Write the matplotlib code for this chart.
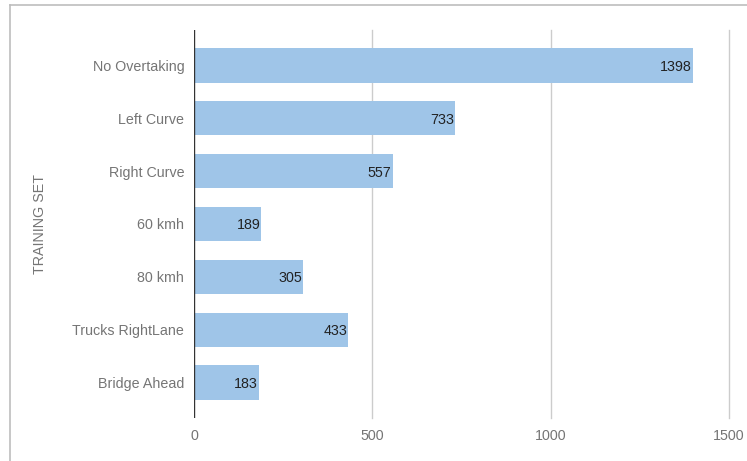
import matplotlib.pyplot as plt
from matplotlib.lines import Line2D

plt.rcParams['font.family'] = ['Liberation Sans', 'DejaVu Sans']

categories = ["No Overtaking", "Left Curve", "Right Curve", "60 kmh", "80 kmh",
              "Trucks RightLane", "Bridge Ahead"]
counts = [1398, 733, 557, 189, 305, 433, 183]
x_ticks = [0, 500, 1000, 1500]

fig = plt.figure(figsize=(7.47, 4.61), dpi=100)
ax = fig.add_axes([0.2597, 0.0933, 0.7163, 0.8417])

ypos = list(range(len(categories)))
bars = ax.barh(ypos, counts, height=0.65, color="#9fc5e8", zorder=2)

# value labels inside the bar ends
for b, v in zip(bars, counts):
    ax.text(b.get_width() - 3, b.get_y() + b.get_height() / 2, str(v),
            ha="right", va="center_baseline", fontsize=10.3, color="#222222", zorder=3)

ax.set_xlim(0, 1500)
ax.set_ylim(6.67, -0.67)
ax.set_yticks(ypos)
ax.set_yticklabels(categories)
ax.set_xticks(x_ticks)
ax.set_xticklabels([str(t) for t in x_ticks])
ax.tick_params(axis="both", length=0, labelsize=10.3, colors="#757575")
ax.tick_params(axis="y", pad=7)
ax.tick_params(axis="x", pad=8)

for t in x_ticks[1:]:
    ax.axvline(t, color="#cccccc", linewidth=1, zorder=1, clip_on=False)
ax.axvline(0, color="#333333", linewidth=1, zorder=3)

for s in ax.spines.values():
    s.set_visible(False)

ax.set_ylabel("TRAINING SET", fontsize=10.3, color="#757575", labelpad=18)

# outer frame (top and left edges)
fig.add_artist(Line2D([10 / 747, 1.0], [1 - 5 / 461, 1 - 5 / 461],
                      transform=fig.transFigure, color="#bdbdbd", linewidth=1.2))
fig.add_artist(Line2D([10 / 747, 10 / 747], [0, 1 - 5 / 461],
                      transform=fig.transFigure, color="#bdbdbd", linewidth=1.2))

fig.savefig("out.png", dpi=100)
